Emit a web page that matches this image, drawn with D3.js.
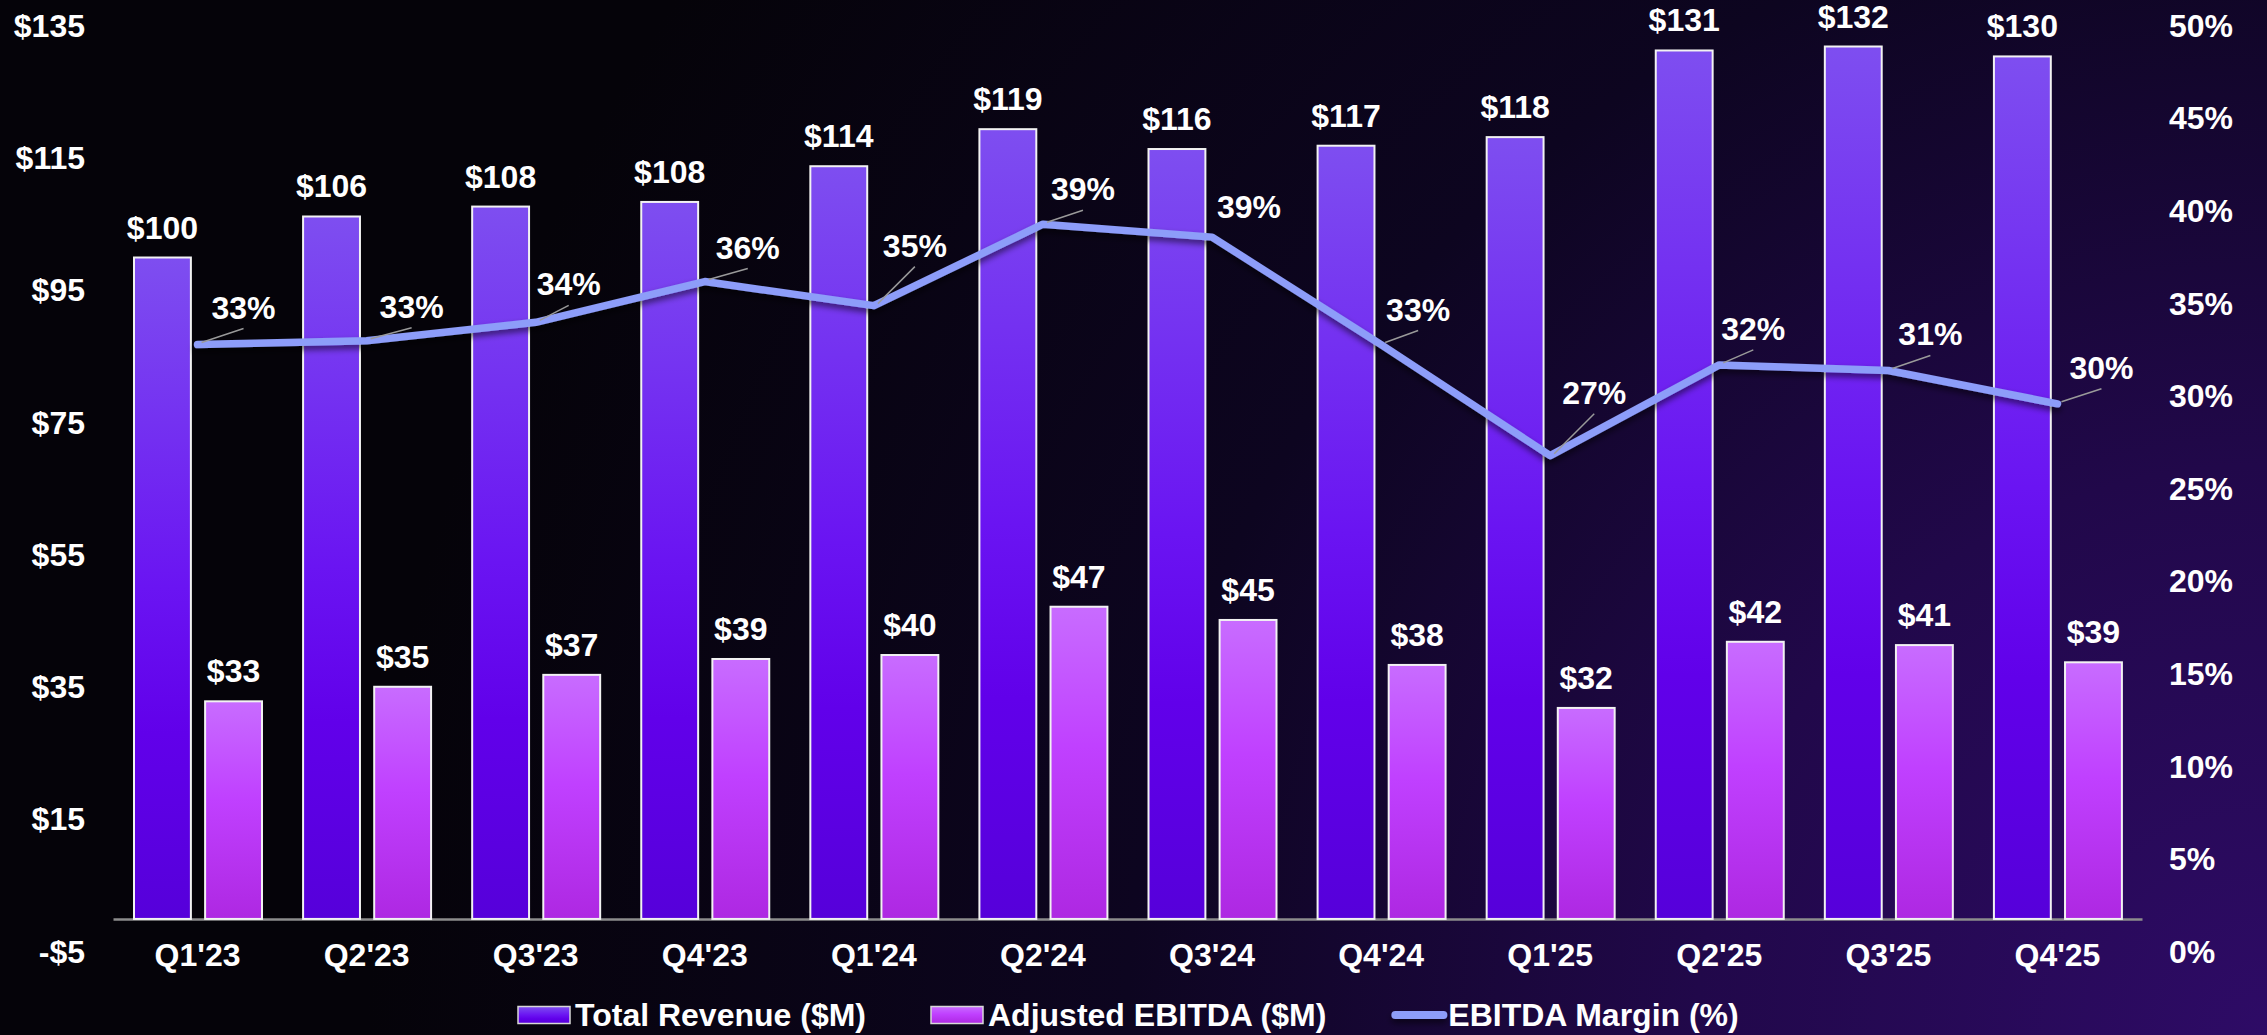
<!DOCTYPE html>
<html>
<head>
<meta charset="utf-8">
<script src="https://cdn.jsdelivr.net/npm/d3@7"></script>
<style>
  html, body { margin: 0; padding: 0; background: #050309; overflow: hidden; }
  svg { display: block; }
  text { font-family: "Liberation Sans", Arial, sans-serif; font-weight: bold; fill: #fff; }
</style>
</head>
<body>
<svg id="chart" width="2267" height="1035"></svg>
<script>
// data
const categories = ["Q1'23", "Q2'23", "Q3'23", "Q4'23", "Q1'24", "Q2'24", "Q3'24", "Q4'24", "Q1'25", "Q2'25", "Q3'25", "Q4'25"];
const totalRevenue = [100.0, 106.2, 107.7, 108.4, 113.8, 119.4, 116.4, 116.9, 118.2, 131.3, 131.9, 130.4];
const adjustedEbitda = [32.9, 35.1, 36.9, 39.3, 39.9, 47.2, 45.2, 38.4, 31.9, 41.9, 41.4, 38.8];
const ebitdaMargin = [32.8, 33.0, 34.0, 36.2, 34.9, 39.3, 38.6, 32.8, 26.8, 31.7, 31.4, 29.6];
const leftTicks = [-5, 15, 35, 55, 75, 95, 115, 135];
const rightTicks = [0, 5, 10, 15, 20, 25, 30, 35, 40, 45, 50];
const legendLabels = ['Total Revenue ($M)', 'Adjusted EBITDA ($M)', 'EBITDA Margin (%)'];

// where each margin label sits relative to its point (dx, dy, leader?)
const marginLabelOffsets = [
  [46, -37, true], [45, -34, true], [33, -38, true], [43, -34, true],
  [41, -60, true], [40, -35, true], [37, -30, false], [37, -35, true],
  [44, -63, true], [34, -36, true], [42, -36, true], [44, -36, true]
];

const W = 2267, H = 1035;
const plot = {left: 113, right: 2142, top: 26, bottom: 952};

const svg = d3.select('#chart');
const defs = svg.append('defs');

// background glow from the lower right
const bg = defs.append('radialGradient').attr('id', 'bg')
  .attr('gradientUnits', 'userSpaceOnUse')
  .attr('cx', W).attr('cy', H).attr('r', 1900);
bg.append('stop').attr('offset', 0).attr('stop-color', '#2e0b66');
bg.append('stop').attr('offset', 0.3).attr('stop-color', '#21084a');
bg.append('stop').attr('offset', 0.6).attr('stop-color', '#0d0520');
bg.append('stop').attr('offset', 1).attr('stop-color', '#050309');

const revGrad = defs.append('linearGradient').attr('id', 'revGrad')
  .attr('x1', 0).attr('y1', 0).attr('x2', 0).attr('y2', 1);
revGrad.append('stop').attr('offset', 0).attr('stop-color', '#7e4ef0');
revGrad.append('stop').attr('offset', 0.5).attr('stop-color', '#6a14f2');
revGrad.append('stop').attr('offset', 0.72).attr('stop-color', '#6100ea');
revGrad.append('stop').attr('offset', 1).attr('stop-color', '#5600da');

const ebGrad = defs.append('linearGradient').attr('id', 'ebGrad')
  .attr('x1', 0).attr('y1', 0).attr('x2', 0).attr('y2', 1);
ebGrad.append('stop').attr('offset', 0).attr('stop-color', '#c86cff');
ebGrad.append('stop').attr('offset', 0.45).attr('stop-color', '#c040ff');
ebGrad.append('stop').attr('offset', 1).attr('stop-color', '#ae28e2');

// user space so a flat line still gets its shadow
const shadow = defs.append('filter').attr('id', 'shadow')
  .attr('filterUnits', 'userSpaceOnUse')
  .attr('x', 0).attr('y', 0).attr('width', W).attr('height', H);
shadow.append('feDropShadow').attr('dx', 0).attr('dy', 4).attr('stdDeviation', 3)
  .attr('flood-color', '#000').attr('flood-opacity', 0.55);

svg.append('rect').attr('width', W).attr('height', H).attr('fill', 'url(#bg)');

// scales
const x0 = d3.scaleBand().domain(categories).range([plot.left, plot.right]).padding(0);
const x1 = d3.scaleBand().domain(['rev', 'eb']).range([21, 149]).paddingInner(0.2);
const yLeft = d3.scaleLinear().domain([-5, 135]).range([plot.bottom, plot.top]);
const yRight = d3.scaleLinear().domain([0, 50]).range([plot.bottom, plot.top]);

const fontSize = 32;

// axes
const leftAxis = svg.append('g')
  .attr('transform', 'translate(85,0)')
  .call(d3.axisLeft(yLeft).tickValues(leftTicks).tickSize(0).tickPadding(0)
    .tickFormat(v => (v < 0 ? '-$' : '$') + Math.abs(v)));

const rightAxis = svg.append('g')
  .attr('transform', 'translate(2169,0)')
  .call(d3.axisRight(yRight).tickValues(rightTicks).tickSize(0).tickPadding(0)
    .tickFormat(v => v + '%'));

const bottomAxis = svg.append('g')
  .attr('transform', `translate(0,${yLeft(0)})`)
  .call(d3.axisBottom(x0).tickSize(0).tickSizeOuter(0).tickPadding(24));

[leftAxis, rightAxis, bottomAxis].forEach(g => {
  g.selectAll('text')
    .attr('fill', '#fff')
    .style('font-family', '"Liberation Sans", Arial, sans-serif')
    .style('font-weight', 'bold')
    .style('font-size', fontSize + 'px');
});
leftAxis.select('.domain').remove();
rightAxis.select('.domain').remove();
bottomAxis.select('.domain').attr('stroke', '#8c8c8c').attr('stroke-width', 2.5);

// bars
const groups = svg.append('g').attr('id', 'bars')
  .selectAll('g')
  .data(categories.map((c, i) => ({c, rev: totalRevenue[i], eb: adjustedEbitda[i]})))
  .join('g')
  .attr('transform', d => `translate(${x0(d.c)},0)`);

groups.append('rect')
  .attr('x', x1('rev'))
  .attr('y', d => yLeft(d.rev))
  .attr('width', x1.bandwidth())
  .attr('height', d => yLeft(0) - yLeft(d.rev))
  .attr('fill', 'url(#revGrad)')
  .attr('stroke', '#f2f2f2').attr('stroke-width', 2);

groups.append('rect')
  .attr('x', x1('eb'))
  .attr('y', d => yLeft(d.eb))
  .attr('width', x1.bandwidth())
  .attr('height', d => yLeft(0) - yLeft(d.eb))
  .attr('fill', 'url(#ebGrad)')
  .attr('stroke', '#f2f2f2').attr('stroke-width', 2);

groups.append('text')
  .attr('x', x1('rev') + x1.bandwidth() / 2)
  .attr('y', d => yLeft(d.rev) - 19)
  .attr('text-anchor', 'middle')
  .attr('font-size', fontSize)
  .text(d => '$' + Math.round(d.rev));

groups.append('text')
  .attr('x', x1('eb') + x1.bandwidth() / 2)
  .attr('y', d => yLeft(d.eb) - 19)
  .attr('text-anchor', 'middle')
  .attr('font-size', fontSize)
  .text(d => '$' + Math.round(d.eb));

// margin line
const cx = c => x0(c) + x0.bandwidth() / 2;
const pts = categories.map((c, i) => ({c, v: ebitdaMargin[i], off: marginLabelOffsets[i]}));

svg.append('path')
  .datum(pts)
  .attr('fill', 'none')
  .attr('stroke', '#8d9df9')
  .attr('stroke-width', 7.5)
  .attr('stroke-linejoin', 'round')
  .attr('stroke-linecap', 'round')
  .attr('filter', 'url(#shadow)')
  .attr('d', d3.line().x(d => cx(d.c)).y(d => yRight(d.v)));

const mLabels = svg.append('g').attr('id', 'margin-labels');
mLabels.selectAll('line')
  .data(pts.filter(d => d.off[2]))
  .join('line')
  .attr('x1', d => cx(d.c) + 4)
  .attr('y1', d => yRight(d.v) - 2)
  .attr('x2', d => cx(d.c) + d.off[0])
  .attr('y2', d => yRight(d.v) + d.off[1] + 21)
  .attr('stroke', '#9a9a9a')
  .attr('stroke-width', 1.5);

mLabels.selectAll('text')
  .data(pts)
  .join('text')
  .attr('x', d => cx(d.c) + d.off[0])
  .attr('y', d => yRight(d.v) + d.off[1] + 11)
  .attr('text-anchor', 'middle')
  .attr('font-size', fontSize)
  .text(d => Math.round(d.v) + '%');

// legend
const legend = svg.append('g').attr('id', 'legend');
let lx = 518;
const ly = 1015;
legendLabels.forEach((label, i) => {
  if (i < 2) {
    legend.append('rect')
      .attr('x', lx).attr('y', ly - 8.5)
      .attr('width', 52).attr('height', 17)
      .attr('fill', i === 0 ? 'url(#revGrad)' : 'url(#ebGrad)')
      .attr('stroke', '#d8d8d8').attr('stroke-width', 1.5);
  } else {
    legend.append('line')
      .attr('x1', lx + 4).attr('x2', lx + 52)
      .attr('y1', ly).attr('y2', ly)
      .attr('stroke', '#8d9df9').attr('stroke-width', 8)
      .attr('stroke-linecap', 'round')
      .attr('filter', 'url(#shadow)');
  }
  const t = legend.append('text')
    .attr('x', lx + 57)
    .attr('y', ly + 11)
    .attr('font-size', fontSize)
    .text(label);
  lx += 57 + t.node().getComputedTextLength() + 65;
});
</script>
</body>
</html>
